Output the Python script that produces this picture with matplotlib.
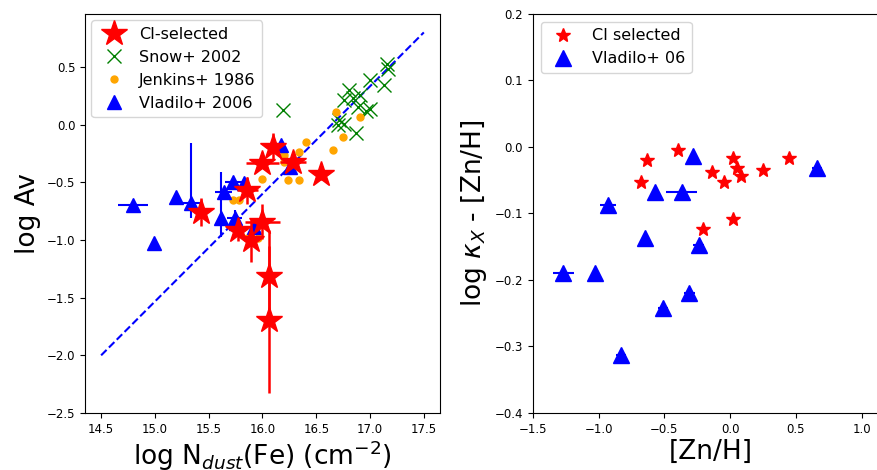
import matplotlib
matplotlib.use('Agg')
import matplotlib.pyplot as plt
import numpy as np

# left panel: log N_dust(Fe) vs log Av
ci_x = [15.43, 16.00, 16.10, 16.28, 16.54, 15.86, 16.00, 15.77, 15.89, 16.06, 16.06]
ci_y = [-0.76, -0.33, -0.19, -0.32, -0.43, -0.57, -0.84, -0.91, -1.00, -1.31, -1.69]
ci_xerr = [0.00, 0.15, 0.05, 0.12, 0.00, 0.10, 0.16, 0.05, 0.05, 0.00, 0.00]
ci_yerr = [0.12, 0.05, 0.12, 0.05, 0.05, 0.12, 0.15, 0.10, 0.19, 0.40, 0.64]

snow_x = [17.16, 17.17, 17.00, 17.13, 16.80, 16.91, 16.76, 17.00, 16.89, 16.96,
          16.71, 16.76, 16.70, 16.87, 16.19, 16.84]
snow_y = [0.53, 0.48, 0.39, 0.34, 0.30, 0.26, 0.21, 0.14, 0.15, 0.12,
          0.04, 0.01, 0.00, -0.07, 0.13, 0.23]

jenkins_x = [16.68, 16.91, 16.75, 16.66, 16.40, 16.34, 16.24, 16.34, 16.20, 16.00,
             15.73, 15.78, 15.86, 15.96, 16.20]
jenkins_y = [0.11, 0.07, -0.11, -0.22, -0.15, -0.24, -0.48, -0.48, -0.26, -0.47,
             -0.65, -0.65, -0.98, -0.98, -0.32]

vlad_x = [14.80, 14.99, 15.20, 15.34, 15.61, 15.64, 15.73, 15.83, 15.74, 15.75,
          15.92, 16.17, 16.26]
vlad_y = [-0.70, -1.03, -0.63, -0.68, -0.81, -0.58, -0.50, -0.51, -0.81, -0.85,
          -0.89, -0.18, -0.37]
vlad_xerr = [0.14, 0.0, 0.0, 0.08, 0.0, 0.08, 0.08, 0.0, 0.07, 0.0, 0.0, 0.0, 0.0]
vlad_yerr_lo = [0.0, 0.0, 0.0, 0.13, 0.16, 0.0, 0.0, 0.0, 0.14, 0.0, 0.0, 0.0, 0.0]
vlad_yerr_hi = [0.0, 0.0, 0.0, 0.52, 0.40, 0.0, 0.0, 0.0, 0.07, 0.0, 0.0, 0.0, 0.0]

fit_x = [14.5, 17.5]
fit_y = [-2.0, 0.8]

# right panel: [Zn/H] vs log kappa_X - [Zn/H]
ci_zn = [-0.68, -0.63, -0.40, -0.21, -0.14, -0.05, 0.02, 0.05, 0.08, 0.02, 0.25, 0.45]
ci_kap = [-0.052, -0.020, -0.005, -0.124, -0.038, -0.052, -0.016, -0.031, -0.043,
          -0.108, -0.034, -0.016]

vl_zn = [-0.28, -0.57, -0.37, -0.93, -0.65, -0.24, 0.66, -1.27, -1.03, -0.83, -0.51, -0.31]
vl_kap = [-0.014, -0.068, -0.068, -0.087, -0.137, -0.148, -0.032, -0.190, -0.190,
          -0.313, -0.242, -0.219]
vl_znerr = [0.0, 0.0, 0.12, 0.06, 0.0, 0.04, 0.04, 0.08, 0.0, 0.04, 0.04, 0.04]
vl_kaperr = [0.0, 0.0, 0.0, 0.006, 0.0, 0.006, 0.006, 0.006, 0.0, 0.006, 0.006, 0.006]

fig = plt.figure(figsize=(8.78, 4.7), dpi=100)
ax1 = fig.add_axes([0.0968, 0.1213, 0.4043, 0.849])
ax2 = fig.add_axes([0.607, 0.1213, 0.4043, 0.849])

# left
ax1.plot(fit_x, fit_y, '--', color='blue', lw=1.5)
ax1.errorbar(vlad_x, vlad_y, xerr=vlad_xerr, yerr=[vlad_yerr_lo, vlad_yerr_hi],
             fmt='none', ecolor='blue', lw=1.5, capsize=0, zorder=3)
ax1.errorbar(ci_x, ci_y, xerr=ci_xerr, yerr=ci_yerr, fmt='none', ecolor='red',
             lw=1.8, capsize=0, zorder=4)
ci_h, = ax1.plot(ci_x, ci_y, '*', color='red', ms=19, zorder=4)
snow_h, = ax1.plot(snow_x, snow_y, 'x', color='green', ms=10, mew=1, zorder=3)
jen_h, = ax1.plot(jenkins_x, jenkins_y, 'o', color='orange', ms=5, zorder=3)
vlad_h, = ax1.plot(vlad_x, vlad_y, '^', color='blue', ms=10, zorder=3)
ax1.set_xlim(14.35, 17.65)
ax1.set_ylim(-2.49, 0.96)
ax1.set_xticks(np.arange(14.5, 17.6, 0.5))
ax1.set_yticks(np.arange(-2.5, 0.6, 0.5))
ax1.set_xlabel(r'log N$_{dust}$(Fe) (cm$^{-2}$)', fontsize=19, labelpad=2)
ax1.set_ylabel('log Av', fontsize=19)
ax1.legend([ci_h, snow_h, jen_h, vlad_h],
           ['CI-selected', 'Snow+ 2002', 'Jenkins+ 1986', 'Vladilo+ 2006'],
           loc='upper left', fontsize=11.5, handletextpad=0.6,
           borderaxespad=0.4)

# right
ax2.errorbar(vl_zn, vl_kap, xerr=vl_znerr, yerr=vl_kaperr, fmt='none',
             ecolor='blue', lw=1.5, capsize=0)
star_h, = ax2.plot(ci_zn, ci_kap, '*', color='red', ms=10, ls='none')
tri_h, = ax2.plot(vl_zn, vl_kap, '^', color='blue', ms=11, ls='none')
ax2.set_xlim(-1.5, 1.2)
ax2.set_ylim(-0.4, 0.2)
ax2.set_xticks([-1.5, -1.0, -0.5, 0.0, 0.5, 1.0])
ax2.set_xlabel('[Zn/H]', fontsize=19, labelpad=2)
ax2.set_ylabel(r'log $\kappa_X$ - [Zn/H]', fontsize=19)
ax2.legend([star_h, tri_h], ['CI selected', 'Vladilo+ 06'], loc='upper left',
           fontsize=11.5)

for ax in (ax1, ax2):
    ax.tick_params(labelsize=8.5)

fig.savefig('out.png', dpi=100)
